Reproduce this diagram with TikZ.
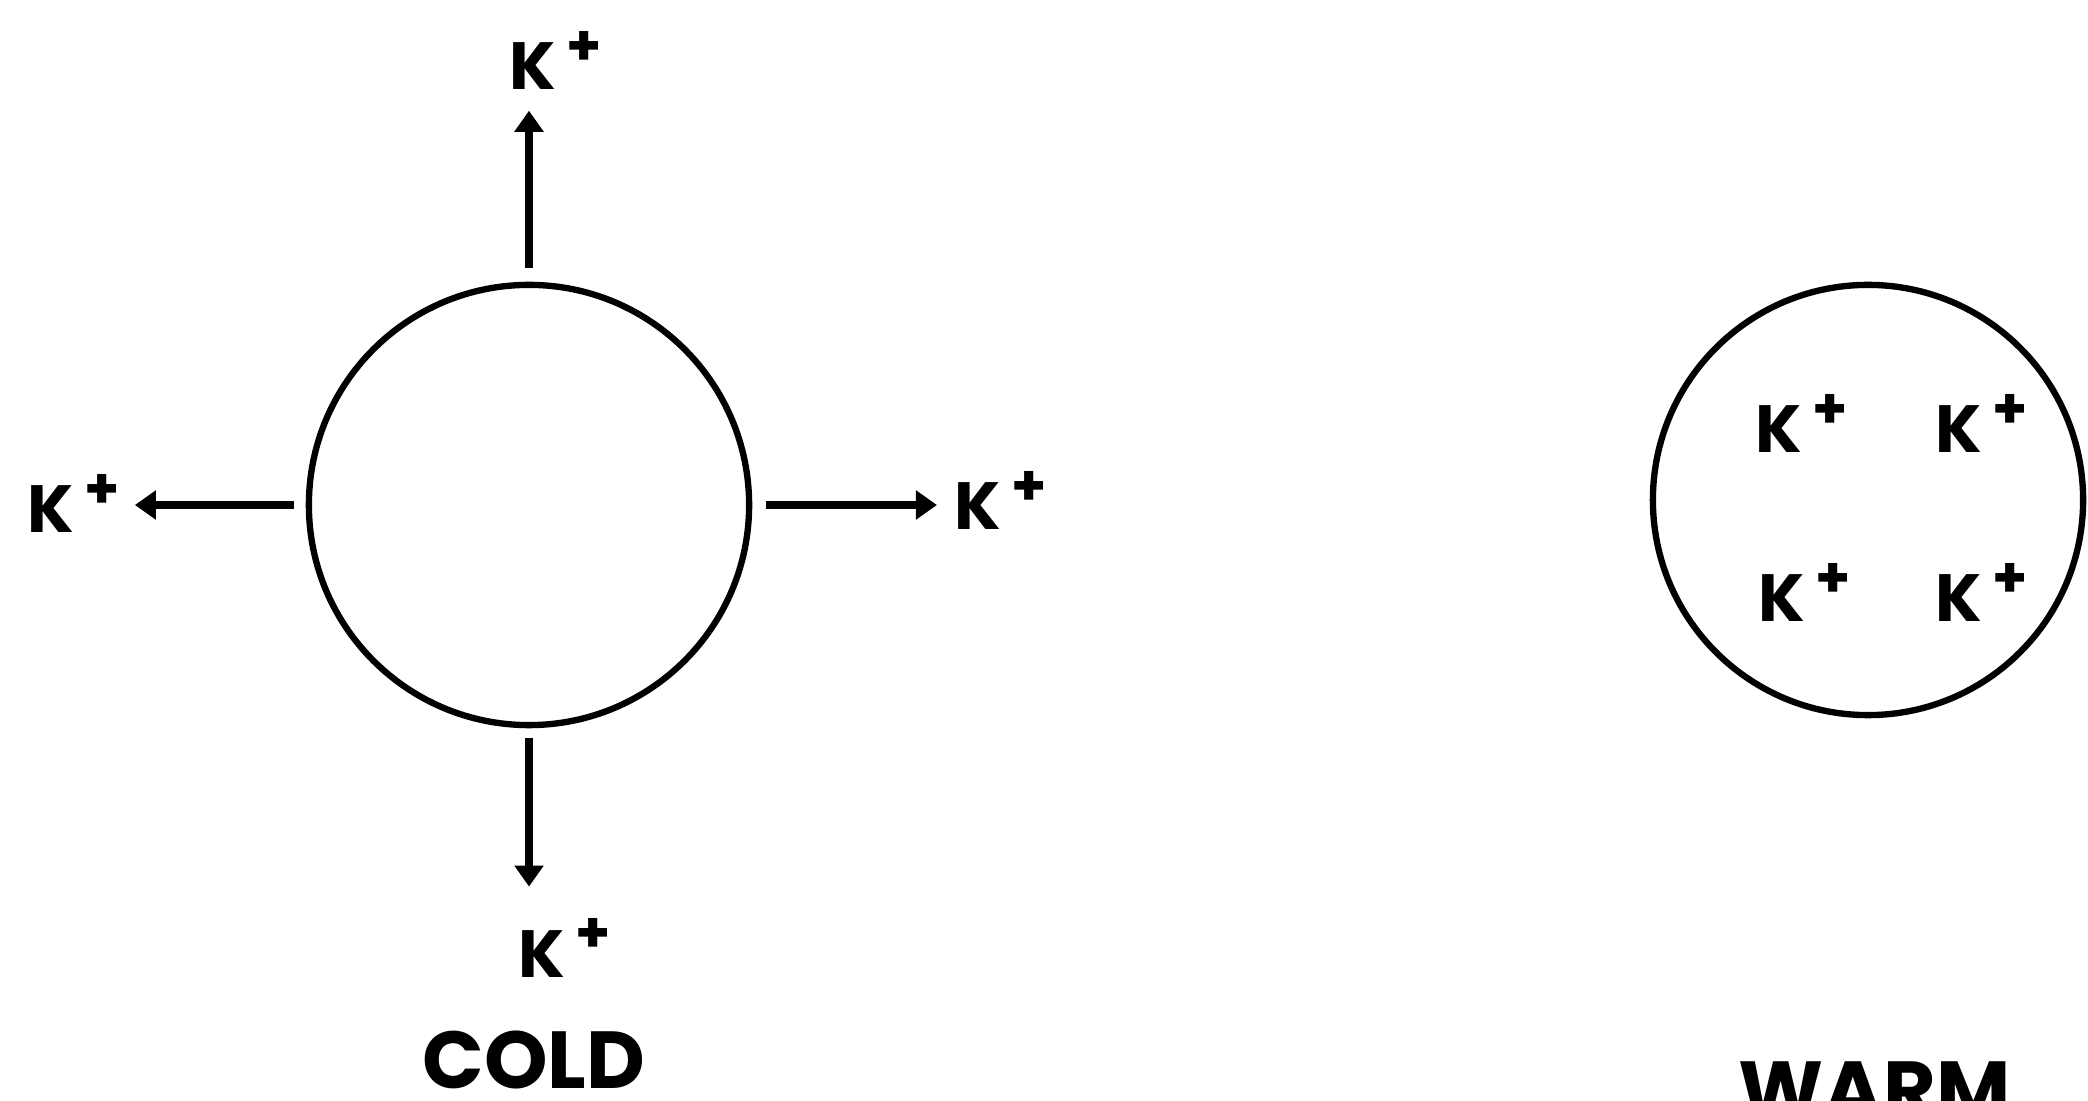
\documentclass[tikz,border=0pt]{standalone}
\usepackage{fontspec}
\setmainfont{Poppins}
\usetikzlibrary{arrows.meta}
\newcommand{\kion}{K\kern3pt\raisebox{7pt}{\fontsize{16}{16}\selectfont +}}
\begin{document}
\begin{tikzpicture}[x=0.01cm,y=-0.01cm,
  cell/.style={draw, circle, line width=1.8pt, inner sep=0pt},
  ion/.style={inner sep=0pt, anchor=base west, font=\fontsize{19}{19}\selectfont\bfseries},
  title/.style={inner sep=0pt, anchor=base west, font=\fontsize{23}{23}\selectfont\bfseries},
  flow/.style={line width=2.5pt, -{Triangle[length=6pt,width=8pt]}}]
\useasboundingbox (0,0) rectangle (2088,1101);
% COLD cell
\node[cell, minimum size=4.4cm] (cold) at (529,505) {};
\node[ion] (ktop) at (509,90) {\kion};
\node[ion] (kleft) at (27,533) {\kion};
\node[ion] (kright) at (954,530) {\kion};
\node[ion] (kbot) at (518,977) {\kion};
\draw[flow, shorten <=1.4mm, shorten >=2.0mm] (cold.north) -- (cold.north |- ktop.south);
\draw[flow, shorten <=1.2mm, shorten >=1.4mm] (cold.west) -- (kleft.east |- cold.west);
\draw[flow, shorten <=1.4mm, shorten >=1.7mm] (cold.east) -- (kright.west |- cold.east);
\draw[flow, shorten <=1.0mm, shorten >=3.1mm] (cold.south) -- (cold.south |- kbot.north);
\node[title] (coldlbl) at (422,1088) {COLD};
% WARM cell
\node[cell, minimum size=4.3cm] (warm) at (1868,500) {};
\node[ion] (w1) at (1755,453) {\kion};
\node[ion] (w2) at (1935,453) {\kion};
\node[ion] (w3) at (1758,622) {\kion};
\node[ion] (w4) at (1935,622) {\kion};
\node[title] (warmlbl) at (1738,1118) {WARM};
\end{tikzpicture}
\end{document}
